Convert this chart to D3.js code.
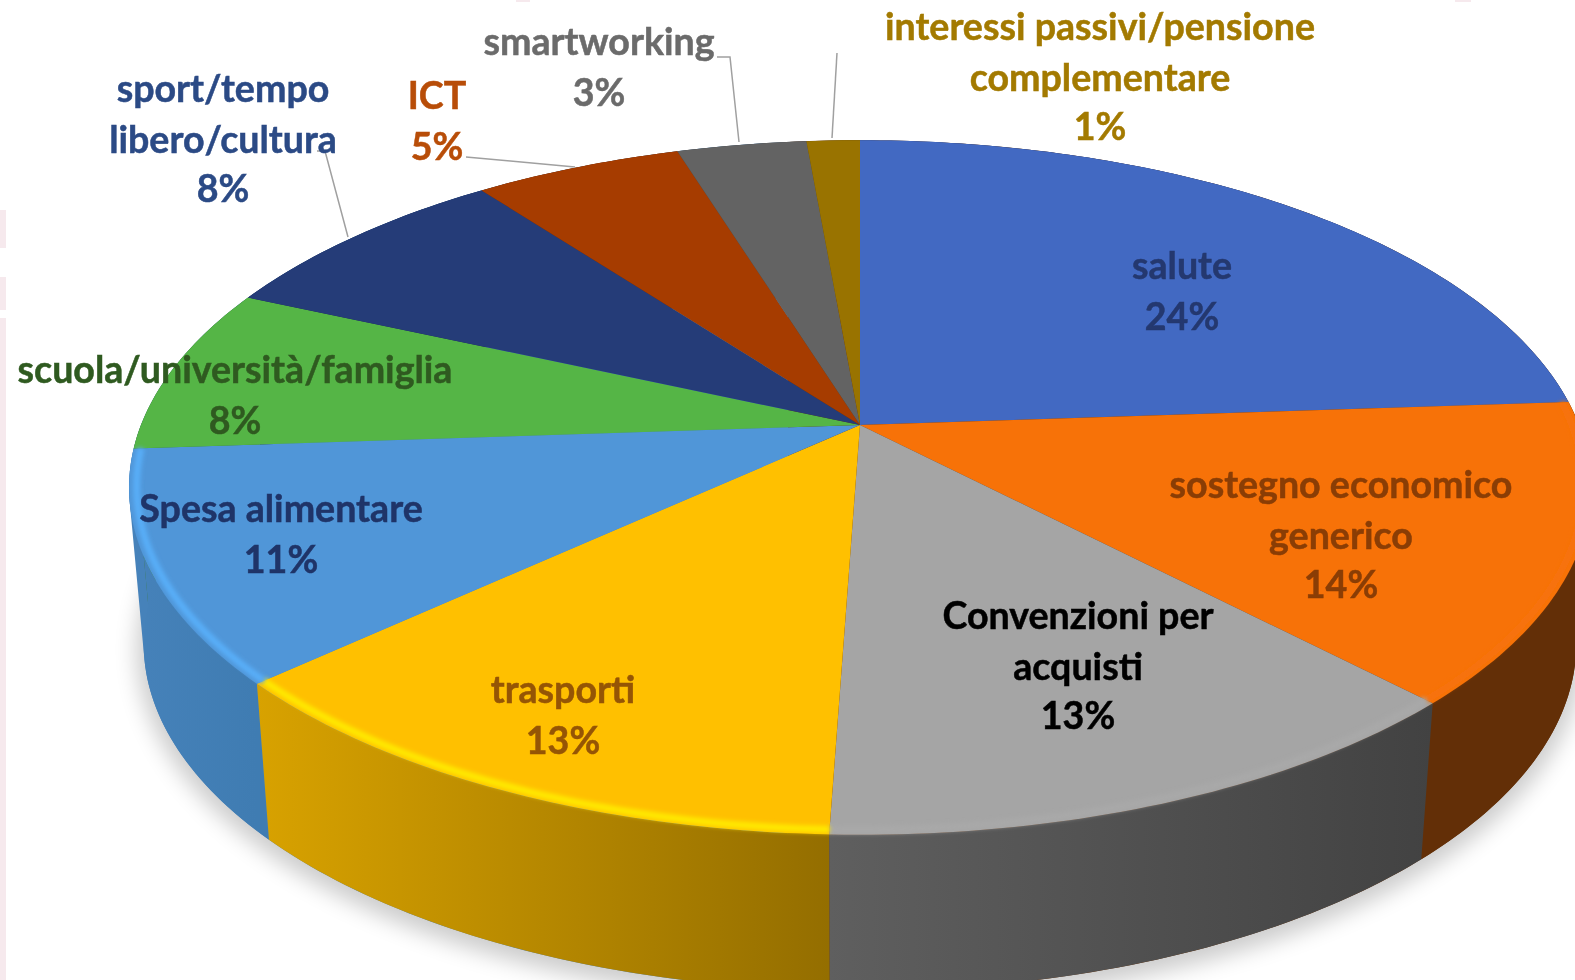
<!DOCTYPE html>
<html lang="en">

<head>
    <meta charset="UTF-8">
    <title>Pie 3D</title>
</head>
<style>
    * {
        margin: 0;
        padding: 0;
    }

    body {
        background: #fff;
        overflow: hidden;
    }

    svg {
        display: block;
        filter: blur(0.7px);
    }

    text {
        font-family: Lato, "Open Sans", sans-serif;
        font-weight: 700;
    }
</style>

<body>
    <svg></svg>
</body>

</html>
<script src="https://cdn.jsdelivr.net/npm/d3@7"></script>

<script>
    // dati
    const categories = [
        ['salute'],
        ['sostegno economico', 'generico'],
        ['Convenzioni per', 'acquisti'],
        ['trasporti'],
        ['Spesa alimentare'],
        ['scuola/università/famiglia'],
        ['sport/tempo', 'libero/cultura'],
        ['ICT'],
        ['smartworking'],
        ['interessi passivi/pensione', 'complementare']
    ]
    const values = [23.9, 13.91, 12.75, 12.62, 10.72, 7.77, 8.05, 5.47, 3.41, 1.4]

    // colori
    const faceColors = ['#4269c2', '#f77208', '#a5a5a5', '#ffc000', '#5096d8', '#55b546', '#253c78', '#a63c00', '#636363', '#997300']
    const sideLeft = ['#2b4580', '#632f07', '#5f5f5f', '#d8a200', '#4682ba', '#3a7a2f', '#192850', '#702800', '#434343', '#664d00']
    const sideRight = ['#2b4580', '#632f07', '#424242', '#946e00', '#3f7cb2', '#3a7a2f', '#192850', '#702800', '#434343', '#664d00']
    const rimColors = [null, '#f77208', '#a9a9a9', '#ffe800', '#58aef8', null, null, null, null, null]
    const labelColors = ['#24386f', '#8a3d05', '#000000', '#955505', '#1f3468', '#2f5a20', '#2b4a85', '#b84d08', '#6b6b6b', '#a37a00']

    // posizione delle etichette (centro, baseline della prima riga)
    const labelX = [1182, 1341, 1078, 563, 281, 235, 223, 437, 599, 1100]
    const labelY = [279, 498, 629, 703, 522, 383, 102, 109, 55, 40]
    const lineGaps = [0, 51, 100]

    // linee guida
    const leaders = [
        [[317, 151], [325, 151], [348, 237]],
        [[466, 157], [575, 167]],
        [[717, 57], [730, 57], [739, 142]],
        [[837, 53], [832, 138]]
    ]

    const width = 1575, height = 980
    const svg = d3.select('svg').attr('width', width).attr('height', height)
    const defs = svg.append('defs')

    // prospettiva del disco
    const cx = 860, cy = 425, A = 719, B = 336, k = 0.18
    const depth = 156, shrink = 0.98

    function project(a, bottom, r = 1) {
        const u = r * Math.sin(a), v = -r * Math.cos(a), w = 1 - k * v
        const x = A * u / w, y = B * v / w
        return bottom ? [cx + shrink * x, cy + depth + y] : [cx + x, cy + y]
    }

    const line = d3.line()
    const arcs = d3.pie().sort(null)(values)
    const samples = (a0, a1) => {
        const n = Math.max(2, Math.ceil((a1 - a0) * 60))
        return d3.range(n + 1).map(i => a0 + (a1 - a0) * i / n)
    }
    const ring = samples(0, 2 * Math.PI)

    // fascette di sfondo (rosa) come nel ritaglio
    const strips = [[0, 210, 6, 38], [0, 277, 6, 33], [0, 318, 6, 662], [516, 0, 14, 2], [1455, 0, 16, 2]]
    svg.selectAll('.strip').data(strips).join('rect').attr('class', 'strip')
        .attr('x', d => d[0]).attr('y', d => d[1]).attr('width', d => d[2]).attr('height', d => d[3])
        .attr('fill', '#f6e9ed')

    defs.append('filter').attr('id', 'shadow').attr('x', '-10%').attr('y', '-10%').attr('width', '120%').attr('height', '120%')
        .append('feGaussianBlur').attr('stdDeviation', 11)
    defs.append('filter').attr('id', 'soft').attr('x', '-10%').attr('y', '-10%').attr('width', '120%').attr('height', '120%')
        .append('feGaussianBlur').attr('stdDeviation', 2)

    // ombra
    svg.append('path')
        .attr('d', line(ring.map(a => project(a, true))) + 'Z')
        .attr('transform', 'translate(0,6)')
        .attr('fill', '#000').attr('stroke', '#000').attr('stroke-width', 14)
        .attr('opacity', 0.2)
        .attr('filter', 'url(#shadow)')

    // sagoma del cilindro: colma il raccordo tra i due bordi
    const hullFill = defs.append('linearGradient').attr('id', 'hull')
        .attr('gradientUnits', 'userSpaceOnUse')
        .attr('x1', 0).attr('x2', width).attr('y1', 0).attr('y2', 0)
    hullFill.append('stop').attr('offset', 0.5).attr('stop-color', sideLeft[4])
    hullFill.append('stop').attr('offset', 0.5).attr('stop-color', sideLeft[1])
    const hull = d3.polygonHull(ring.map(a => project(a)).concat(ring.map(a => project(a, true))))
    svg.append('path').attr('d', line(hull) + 'Z').attr('fill', 'url(#hull)')

    // lati, dal fondo verso il davanti
    const gradient = defs.selectAll('.sideGrad').data(arcs).join('linearGradient')
        .attr('class', 'sideGrad')
        .attr('id', (d, i) => 'side' + i)
        .attr('gradientUnits', 'userSpaceOnUse')
        .attr('x1', d => d3.min(samples(d.startAngle, d.endAngle), a => project(a)[0]))
        .attr('x2', d => d3.max(samples(d.startAngle, d.endAngle), a => project(a)[0]))
        .attr('y1', 0).attr('y2', 0)
    gradient.append('stop').attr('offset', 0).attr('stop-color', (d, i) => sideLeft[i])
    gradient.append('stop').attr('offset', 1).attr('stop-color', (d, i) => sideRight[i])

    const mid = d => (d.startAngle + d.endAngle) / 2
    const order = arcs.map((d, i) => i).sort((p, q) => Math.cos(mid(arcs[q])) - Math.cos(mid(arcs[p])))

    svg.append('g').selectAll('path').data(order).join('path')
        .attr('d', i => {
            const t = samples(arcs[i].startAngle, arcs[i].endAngle)
            return line(t.map(a => project(a)).concat(t.slice().reverse().map(a => project(a, true)))) + 'Z'
        })
        .attr('fill', i => 'url(#side' + i + ')')

    // faccia superiore
    svg.append('g').selectAll('path').data(arcs).join('path')
        .attr('d', d => line([[cx, cy]].concat(samples(d.startAngle, d.endAngle).map(a => project(a)))) + 'Z')
        .attr('fill', (d, i) => faceColors[i])

    // riflesso sul bordo
    svg.append('g').selectAll('path').data(arcs.filter((d, i) => rimColors[i])).join('path')
        .attr('d', d => line(samples(d.startAngle, d.endAngle).map(a => project(a, false, 0.99))))
        .attr('fill', 'none')
        .attr('stroke', d => rimColors[d.index])
        .attr('stroke-width', 7)
        .attr('filter', 'url(#soft)')

    // linee guida
    svg.append('g').selectAll('path').data(leaders).join('path')
        .attr('d', d => line(d))
        .attr('fill', 'none')
        .attr('stroke', '#a0a0a0')
        .attr('stroke-width', 1.5)

    // etichette
    const label = svg.append('g').selectAll('g').data(arcs).join('g')
    label.selectAll('text')
        .data((d, i) => categories[i].concat(Math.round(d.value) + '%').map(t => ({ t, i })))
        .join('text')
        .attr('x', d => labelX[d.i])
        .attr('y', (d, j) => labelY[d.i] + lineGaps[j])
        .attr('text-anchor', 'middle')
        .attr('font-size', 37.6)
        .attr('fill', d => labelColors[d.i])
        .attr('stroke', d => labelColors[d.i])
        .attr('stroke-width', 0.5)
        .text(d => d.t)
</script>
